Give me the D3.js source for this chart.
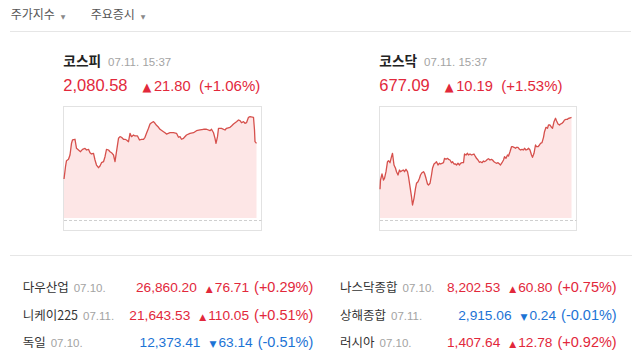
<!DOCTYPE html>
<html><head><meta charset="utf-8">
<script src="https://cdn.jsdelivr.net/npm/d3@7"></script>
<style>body{margin:0;background:#fff;overflow:hidden}</style>
</head><body><svg id="c" width="640" height="357"></svg>
<script>
const tabs = ["주가지수", "주요증시"];
const mainNames = ["코스피", "코스닥"];
const mainDates = ["07.11. 15:37", "07.11. 15:37"];
const mainValues = ["2,080.58", "677.09"];
const mainChanges = ["21.80", "10.19"];
const mainPercents = ["(+1.06%)", "(+1.53%)"];

const kospiTime = [0,3,5,9,12,15,17,22,25,29,33,37,42,45,49,52,55,59,62,65,69,72,75,79,82,85,89,92,95,99,102,105,109,112,115,119,122,125,129,132,135,139,142,147,151,155,159,162,165,169,172,175,179,182,185,189,192,199,202,205,212,219,225,229,232,235,239,245,252,259,265,272,279,285,292,295,299,302,304,307,309,315,322,325,332,335,339,345,349,352,355,359,362,365,369,372,379,381,382,385];
const kospiValue = [2075.10,2076.99,2077.92,2078.13,2078.79,2080.59,2081.10,2081.21,2079.82,2079.56,2079.30,2079.67,2079.82,2079.56,2079.67,2079.15,2078.95,2079.05,2078.02,2077.25,2076.84,2077.10,2077.61,2077.76,2078.53,2079.67,2079.56,2079.30,2079.15,2078.79,2077.76,2079.30,2081.36,2081.61,2081.52,2081.21,2081.21,2081.10,2080.84,2082.13,2081.61,2081.87,2081.72,2081.72,2081.10,2081.21,2081.21,2081.52,2082.13,2082.90,2083.56,2083.76,2083.92,2083.67,2083.36,2083.05,2082.75,2082.38,2082.22,2082.02,2082.22,2082.22,2082.13,2081.52,2081.61,2081.21,2081.36,2081.87,2082.13,2082.22,2082.53,2082.64,2082.75,2082.75,2082.53,2082.75,2082.22,2081.36,2080.59,2081.61,2082.90,2082.90,2082.64,2082.90,2083.05,2083.25,2083.56,2083.92,2084.18,2084.07,2083.76,2083.92,2083.67,2083.76,2084.59,2084.68,2084.59,2082.64,2080.84,2080.58];
const kospiDomain = [2069.1, 2086.33];

const kosdaqTime = [0,1,4,7,9,12,15,17,20,23,25,28,31,33,36,39,41,44,47,49,52,55,57,60,63,65,68,71,73,76,79,81,84,87,89,92,95,97,100,103,105,108,111,113,116,119,121,124,127,129,132,135,137,140,143,145,148,151,153,156,159,161,164,167,169,172,175,177,180,183,185,188,191,193,196,199,201,204,207,209,212,215,217,220,223,225,228,231,233,236,239,241,244,247,249,252,255,257,260,263,265,268,271,273,276,279,281,284,287,289,292,295,297,300,303,305,308,311,313,316,319,321,324,327,329,332,335,337,340,343,345,348,351,353,356,359,361,364,367,369,372,375,377,380,383];
const kosdaqValue = [669.89,670.82,671.42,670.82,670.99,671.65,672.65,672.75,672.55,673.15,673.49,672.32,671.99,671.65,671.32,671.82,671.65,671.75,671.82,671.65,671.89,671.65,671.15,670.15,669.15,668.32,668.99,669.99,670.49,670.65,670.99,671.32,671.55,671.65,671.49,670.99,670.42,670.32,670.49,671.32,671.99,672.42,672.55,672.65,672.32,672.49,672.42,672.49,672.55,672.99,672.89,672.99,672.89,672.82,672.55,672.65,672.42,672.42,672.32,672.49,672.32,672.49,672.55,672.55,673.42,673.32,673.49,673.32,673.42,673.32,673.35,673.42,673.15,672.99,672.82,672.59,672.65,672.55,672.72,672.65,672.75,672.89,672.95,672.82,672.89,672.82,672.65,672.55,672.49,672.55,672.42,672.32,672.55,672.82,673.15,672.99,673.32,673.22,673.65,674.15,674.15,674.09,673.99,674.09,674.09,673.89,673.82,673.89,673.82,673.99,673.82,673.89,673.99,673.82,673.32,673.09,673.49,674.32,674.15,674.15,674.32,674.49,674.55,675.09,675.65,676.09,675.99,676.32,676.32,676.09,675.99,676.65,676.99,676.75,676.42,676.32,676.42,676.49,676.65,676.82,676.89,676.89,676.99,677.02,677.09];
const kosdaqDomain = [667.02, 678.22];

const worldNames = ["다우산업", "니케이225", "독일", "나스닥종합", "상해종합", "러시아"];
const worldDates = ["07.10.", "07.11.", "07.10.", "07.10.", "07.11.", "07.10."];
const worldValues = ["26,860.20", "21,643.53", "12,373.41", "8,202.53", "2,915.06", "1,407.64"];
const worldChanges = ["76.71", "110.05", "63.14", "60.80", "0.24", "12.78"];
const worldPercents = ["(+0.29%)", "(+0.51%)", "(-0.51%)", "(+0.75%)", "(-0.01%)", "(+0.92%)"];
const worldUp = [true, true, false, true, false, true];

const RED = "#e2283b", BLUE = "#1c73d5";
const KR = "'Noto Sans CJK KR', 'Noto Sans', sans-serif";
const NUM = "'Liberation Sans', Arial, sans-serif";
const SYM = "'DejaVu Sans', sans-serif";

const svg = d3.select("#c");
svg.append("rect").attr("width", 640).attr("height", 357).attr("fill", "#fff");

function addText(g, x, y, p, anchor) {
  const t = g.append("text").attr("x", x).attr("y", y)
    .attr("font-family", p.family).attr("font-size", p.size)
    .attr("fill", p.color).attr("font-weight", p.weight || "normal")
    .attr("text-anchor", anchor || "start").text(p.text);
  return t;
}
function flowLeft(g, x, y, parts) {
  let cx = x;
  parts.forEach(p => {
    cx += p.gap || 0;
    const t = addText(g, cx, y, p);
    cx += t.node().getComputedTextLength();
  });
}
function flowRight(g, xr, y, parts) {
  let cx = xr;
  for (let i = parts.length - 1; i >= 0; i--) {
    const p = parts[i];
    const t = addText(g, cx, y, p, "end");
    cx -= t.node().getComputedTextLength() + (p.gap || 0);
  }
}

// tabs
const tabX = [10.7, 90.7];
tabs.forEach((s, i) => {
  flowLeft(svg, tabX[i], 18.5, [
    {text: s, size: 12, family: KR, color: "#555"},
    {text: "▼", size: 6, family: SYM, color: "#888", gap: 6}
  ]);
});
svg.append("line").attr("x1", 10).attr("x2", 631).attr("y1", 31.5).attr("y2", 31.5)
  .attr("stroke", "#e6e6e6").attr("stroke-width", 1.2);

// main panels
const panels = [
  {x0: 63, x1: 262, plot: [64, 259], time: kospiTime, value: kospiValue, domain: kospiDomain},
  {x0: 379, x1: 577, plot: [380, 575], time: kosdaqTime, value: kosdaqValue, domain: kosdaqDomain}
];
panels.forEach((pn, i) => {
  const g = svg.append("g");
  flowLeft(g, pn.x0 + 0.3, 65.5, [
    {text: mainNames[i], size: 13.7, family: KR, color: "#222", weight: "bold"},
    {text: mainDates[i], size: 11.5, family: NUM, color: "#a3a3a3", gap: 7}
  ]);
  flowLeft(g, pn.x0 + 0.3, 90.7, [
    {text: mainValues[i], size: 16.5, family: NUM, color: RED},
    {text: "▲", size: 11.5, family: SYM, color: RED, gap: 15},
    {text: mainChanges[i], size: 14.7, family: NUM, color: RED, gap: 2.5},
    {text: mainPercents[i], size: 15, family: NUM, color: RED, gap: 8.3}
  ]);

  const x = d3.scaleLinear().domain([0, 390]).range(pn.plot);
  const y = d3.scaleLinear().domain(pn.domain).range([218, 106]);
  const data = d3.zip(pn.time, pn.value);

  g.append("rect").attr("x", pn.x0 + 0.5).attr("y", 106.5)
    .attr("width", pn.x1 - pn.x0 - 1).attr("height", 124)
    .attr("fill", "none").attr("stroke", "#e2e2e2");

  g.append("path").datum(data)
    .attr("d", d3.area().x(d => x(d[0])).y0(218).y1(d => y(d[1])))
    .attr("fill", "#fde6e6");
  g.append("path").datum(data)
    .attr("d", d3.line().x(d => x(d[0])).y(d => y(d[1])))
    .attr("fill", "none").attr("stroke", "#d6504c").attr("stroke-width", 1.3)
    .attr("stroke-linejoin", "round");

  g.append("line").attr("x1", pn.x0 + 1).attr("x2", pn.x1 - 0.5)
    .attr("y1", 220.5).attr("y2", 220.5)
    .attr("stroke", "#cfcfcf").attr("stroke-dasharray", "3,2");
});

svg.append("line").attr("x1", 10).attr("x2", 632).attr("y1", 255.5).attr("y2", 255.5)
  .attr("stroke", "#e6e6e6").attr("stroke-width", 1.2);

// world indices table
const rowY = [292, 320, 347];
const colX = [22.7, 340];
const colRight = [313.3, 616.7];
worldNames.forEach((name, i) => {
  const col = Math.floor(i / 3), row = i % 3;
  const c = worldUp[i] ? RED : BLUE;
  flowLeft(svg, colX[col], rowY[row], [
    {text: name, size: 12.5, family: KR, color: "#333"},
    {text: worldDates[i], size: 11.5, family: NUM, color: "#a3a3a3", gap: 5}
  ]);
  flowRight(svg, colRight[col], rowY[row], [
    {text: worldValues[i], size: 13.7, family: NUM, color: c},
    {text: worldUp[i] ? "▲" : "▼", size: 9, family: SYM, color: c, gap: 9},
    {text: worldChanges[i], size: 13.7, family: NUM, color: c, gap: 2},
    {text: worldPercents[i], size: 14.5, family: NUM, color: c, gap: 5}
  ]);
});
</script>
</body></html>
